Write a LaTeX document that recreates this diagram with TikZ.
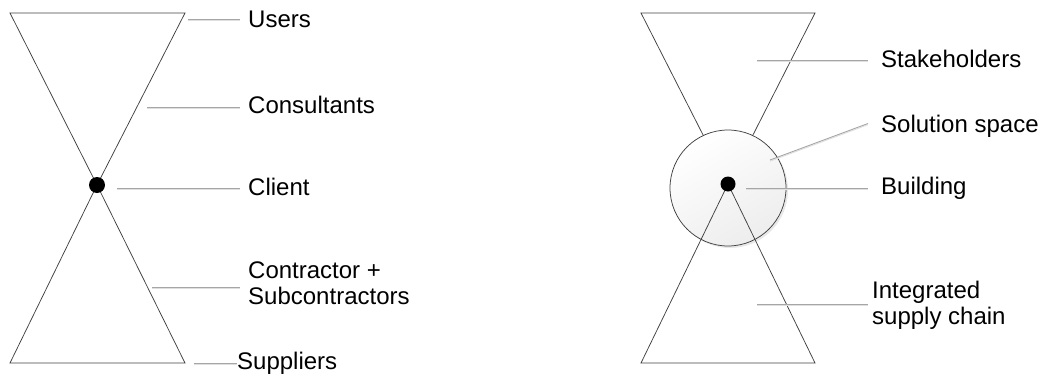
\documentclass[tikz,border=0pt]{standalone}
\usepackage{fontspec}
\setmainfont{Liberation Sans}
\usetikzlibrary{positioning,shadows}

\begin{document}
\begin{tikzpicture}[
  x=1pt, y=-1pt,
  side/.style={draw=black!75, line width=0.75pt},
  dot/.style={circle, fill=black, inner sep=0pt, minimum size=16pt},
  lbl/.style={anchor=west, inner ysep=0pt, inner xsep=8pt, font=\fontsize{24}{27}\selectfont, text height=17.5pt, text depth=0pt},
  lbltwo/.style={anchor=west, inner ysep=0pt, inner xsep=8pt, font=\fontsize{24}{26}\selectfont, align=left},
  lead/.style={draw=gray!70, line width=0.9pt, preaction={draw=gray!25, line width=0.9pt, transform canvas={yshift=-1.2pt}}},
]
\useasboundingbox (0,0) rectangle (1043,375);

% Traditional chain
\coordinate (lt1) at (10,13);
\coordinate (lt2) at (185,13);
\coordinate (lb1) at (10,363);
\coordinate (lb2) at (185,363);
\coordinate (hub) at (97,185);
\draw[side] (lt1) -- (lt2) -- (hub) -- cycle;
\draw[side] (lb1) -- (lb2) -- (hub) -- cycle;
\node[dot] (client) at (hub) {};

\node[lbl] (users) at (240,19) {Users};
\node[lbl] (cons) at (240,105) {Consultants};
\node[lbl] (clnt) at (240,186.5) {Client};
\node[lbltwo] (contr) at (240,283) {Contractor +\\Subcontractors};
\node[lbl, inner xsep=0pt] (supp) at (237,360.5) {Suppliers};

\coordinate (uA) at (188,19);
\coordinate (cA) at (147,107);
\coordinate (clA) at (117,188);
\coordinate (coA) at (152,287);
\coordinate (suA) at (194,363);
\draw[lead] (uA) -- (uA -| users.west);
\draw[lead] (cA) -- (cA -| cons.west);
\draw[lead] (clA) -- (clA -| clnt.west);
\draw[lead] (coA) -- (coA -| contr.west);
\draw[lead] (suA) -- (suA -| supp.west);

% Integrated chain
\coordinate (rt1) at (641,13);
\coordinate (rt2) at (815,13);
\coordinate (rb1) at (641,363);
\coordinate (rb2) at (815,363);
\coordinate (core) at (728,184);
\draw[side] (rt1) -- (rt2) -- (core) -- cycle;
\node[circle, draw=black!75, line width=0.75pt, minimum size=116pt, inner sep=0pt,
  top color=white, bottom color=gray!14, shading angle=30,
  drop shadow={opacity=0.18, shadow xshift=2pt, shadow yshift=-2pt}] (space) at (728,188) {};
\draw[side] (rb1) -- (rb2) -- (core) -- cycle;
\node[dot, minimum size=15pt] (bldg) at (core) {};

\node[lbl, inner xsep=13pt] (stake) at (868,59) {Stakeholders};
\node[lbl, inner xsep=13pt] (sol) at (868,123.5) {Solution space};
\node[lbl, inner xsep=13pt] (bld) at (868,185.5) {Building};
\node[lbltwo, inner xsep=4pt] (isc) at (868,305) {Integrated\\supply chain};

\coordinate (sA) at (757,60);
\coordinate (solA) at (770,160);
\coordinate (bA) at (746,188);
\coordinate (iA) at (757,304);
\draw[lead] (sA) -- (sA -| stake.west);
\draw[lead] (solA) -- (sol.west);
\draw[lead] (bA) -- (bA -| bld.west);
\draw[lead] (iA) -- (iA -| isc.west);
\end{tikzpicture}
\end{document}
